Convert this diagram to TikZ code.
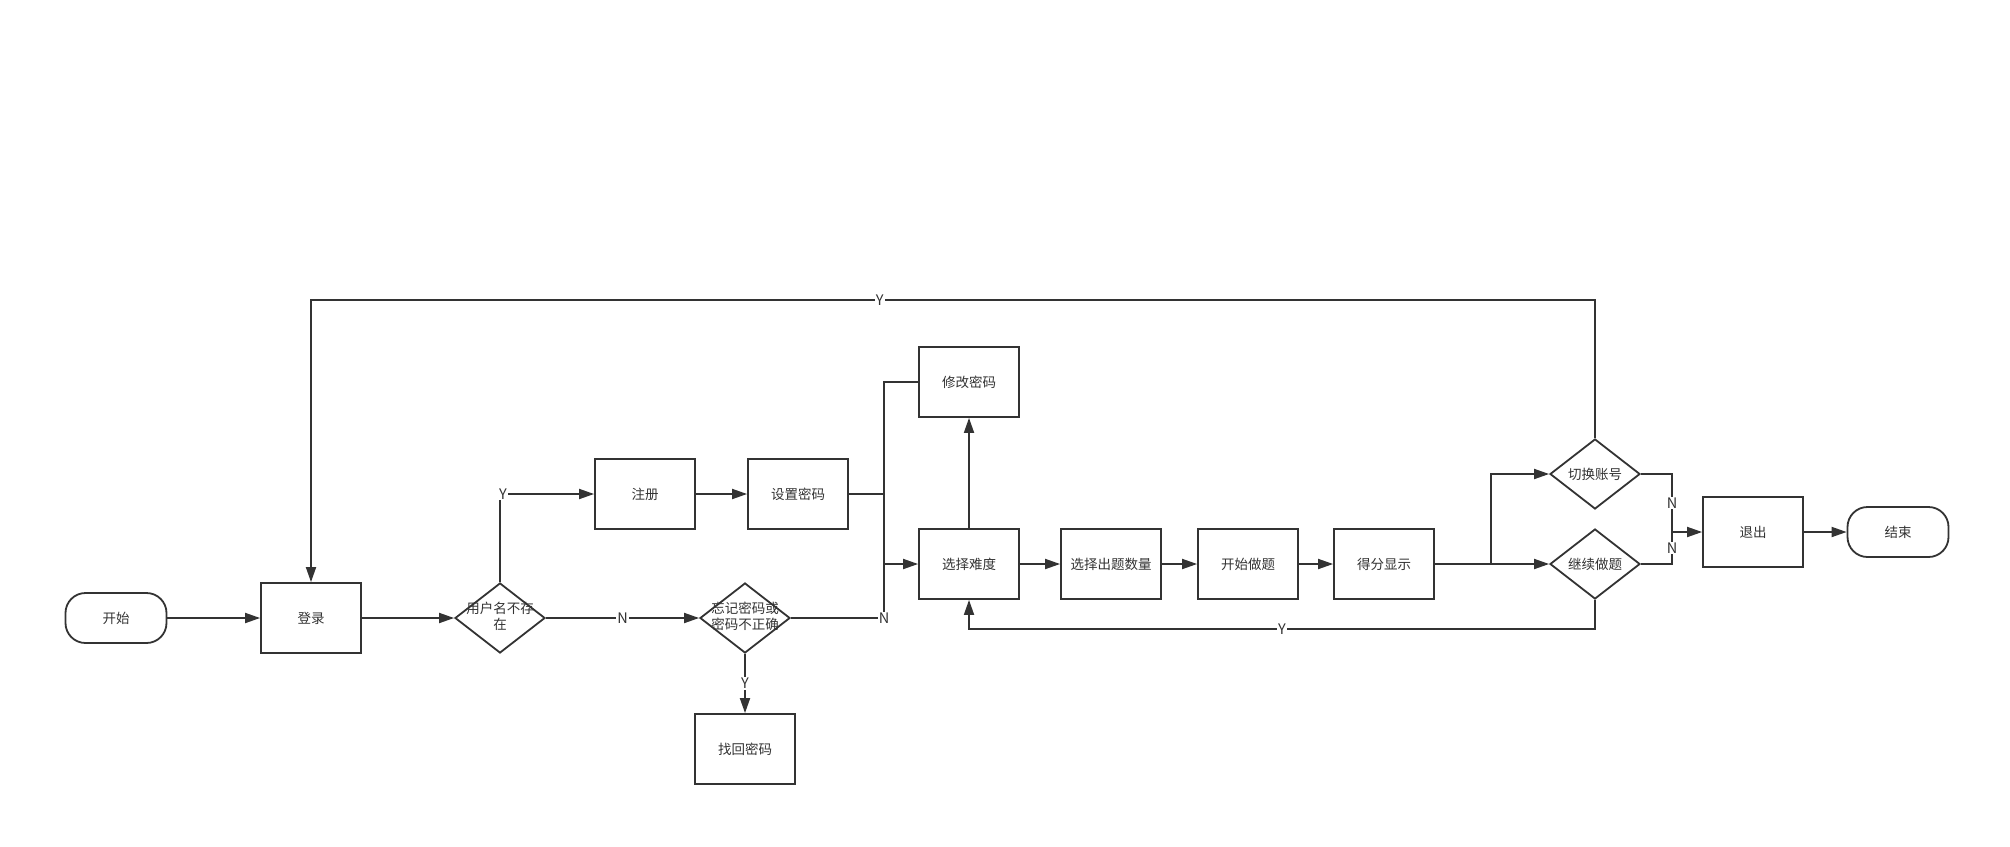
\documentclass[tikz,border=0pt]{standalone}
\usepackage{fontspec}
\newfontfamily\cjk{Noto Sans CJK SC}
\usetikzlibrary{positioning,calc,arrows.meta,shapes.geometric}
\definecolor{linegray}{HTML}{333333}
\tikzset{font=\cjk\fontsize{13.5}{16}\selectfont}
\tikzset{
	box/.style={draw=linegray, line width=1.8pt, minimum width=100pt, minimum height=70pt, inner sep=0pt, text=linegray},
	term/.style={box, rounded corners=20pt, minimum width=101pt, minimum height=50pt},
	decide/.style={draw=linegray, line width=1.8pt, diamond, aspect=1.3, minimum width=90pt, minimum height=70pt, inner sep=0pt, text=linegray},
	ln/.style={draw=linegray, line width=1.8pt},
	arr/.style={ln, -{Triangle[length=15pt,width=10pt]}},
	lbl/.style={fill=white, inner sep=1pt, text=linegray, font=\cjk\fontsize{14.5}{16}\selectfont}
}
\newcommand{\dtext}[2]{\makebox[0pt]{\begin{tabular}{@{}c@{}}#1\\#2\end{tabular}}}

\begin{document}
\begin{tikzpicture}[x=1pt, y=-1pt]
	\fill[white] (0,0) rectangle (2010,846);
	\useasboundingbox (0,0) rectangle (2010,846);

	\node[term] (start) at (116, 618) {开始};
	\node[box] (login) at (311, 618) {登录};
	\node[decide] (userq) at (500, 618) {\dtext{用户名不存}{在}};
	\node[box] (register) at (645, 494) {注册};
	\node[box] (setpwd) at (798, 494) {设置密码};
	\node[decide] (forgetq) at (745, 618) {\dtext{忘记密码或}{密码不正确}};
	\node[box] (findpwd) at (745, 749) {找回密码};
	\node[box] (changepwd) at (969, 382) {修改密码};
	\node[box] (level) at (969, 564) {选择难度};
	\node[box] (count) at (1111, 564) {选择出题数量};
	\node[box] (startq) at (1248, 564) {开始做题};
	\node[box] (score) at (1384, 564) {得分显示};
	\node[decide] (switchq) at (1595, 474) {切换账号};
	\node[decide] (contq) at (1595, 564) {继续做题};
	\node[box] (exit) at (1753, 532) {退出};
	\node[term] (end) at (1898, 532) {结束};

	\coordinate (bus) at (884, 564);
	\coordinate (fork) at (1491, 564);
	\coordinate (topr) at (1595, 300);
	\coordinate (topl) at (311, 300);
	\coordinate (botr) at (1595, 629);
	\coordinate (botl) at (969, 629);
	\coordinate (nx) at (1672, 532);

	\draw[arr] (start) -- (login);
	\draw[arr] (login) -- (userq);
	\draw[arr] (userq) |- node[lbl, pos=0.5, xshift=3pt] {Y} (register);
	\draw[arr] (userq) -- node[lbl] {N} (forgetq);
	\draw[arr] (forgetq) -- node[lbl] {Y} (findpwd);
	\draw[arr] (register) -- (setpwd);
	\draw[ln] (setpwd) -| (bus);
	\draw[ln] (changepwd) -| (bus);
	\draw[arr] (forgetq) -| node[lbl, pos=0.5] {N} (bus) -- (level);
	\draw[arr] (level) -- (changepwd);
	\draw[arr] (level) -- (count);
	\draw[arr] (count) -- (startq);
	\draw[arr] (startq) -- (score);
	\draw[arr] (score) -- (contq);
	\draw[arr] (fork) |- (switchq);
	\draw[arr] (switchq) -- (topr) -- node[lbl, pos=0.557] {Y} (topl) -- (login);
	\draw[arr] (contq) -- (botr) -- node[lbl] {Y} (botl) -- (level);
	\draw[ln] (switchq) -| node[lbl, pos=0.75] {N} (nx);
	\draw[ln] (contq) -| node[lbl, pos=0.75] {N} (nx);
	\draw[arr] (nx) -- (exit);
	\draw[arr] (exit) -- (end);
\end{tikzpicture}
\end{document}
